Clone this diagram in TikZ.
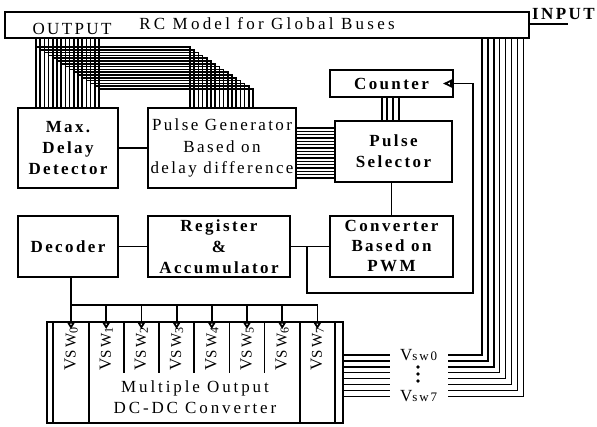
\documentclass[tikz,border=0pt]{standalone}
\usepackage{fontspec}
\setmainfont[LetterSpace=14]{Liberation Serif}
\usetikzlibrary{arrows.meta}
\begin{document}
\begin{tikzpicture}[x=1pt,y=-1pt,
  blk/.style={draw,line width=1.5pt,inner sep=0pt,align=center,font=\fontsize{17}{21}\selectfont\bfseries},
  txt/.style={inner sep=0pt,align=center,font=\fontsize{17}{21}\selectfont},
  conn/.style={line width=1.8pt},
  bus/.style={line width=1.5pt},
  tipd/.style={conn,-{Triangle[open,length=7pt,width=8pt]}},
  tipc/.style={conn,-{Triangle[open,length=9pt,width=8pt]}}]
\useasboundingbox (0,0) rectangle (597,427);

% RC model box
\node[blk,minimum width=524pt,minimum height=26pt] (rc) at (267,25) {};
\node[txt,anchor=base] (title) at (267,30) {\addfontfeature{LetterSpace=19}RC Model for Global Buses};
\node[txt,anchor=base] (out) at (72,35) {OUTPUT};
\node[txt,anchor=base west,font=\fontsize{17}{21}\selectfont\bfseries] (inp) at (532,20) {INPUT};
\coordinate (inend) at (568,24);
\draw[conn] (rc.east |- inend) -- (inend);

% blocks
\node[blk,minimum width=100pt,minimum height=80pt] (max) at (68,148) {Max.\\Delay\\Detector};
\node[blk,font=\fontsize{17}{21.5}\selectfont,minimum width=148pt,minimum height=80pt] (pg) at (222,148) {Pulse Generator\\Based on\\delay difference};
\node[blk,minimum width=123pt,minimum height=27pt] (cnt) at (391.5,83.5) {Counter};
\node[blk,minimum width=117pt,minimum height=61pt] (ps) at (393.5,151.5) {Pulse\\Selector};
\node[blk,font=\fontsize{17}{20}\selectfont\bfseries,minimum width=123pt,minimum height=61pt] (conv) at (391.5,246.5) {Converter\\Based on\\PWM};
\node[blk,minimum width=100pt,minimum height=61pt] (dec) at (68,246.5) {Decoder};
\node[blk,minimum width=142pt,minimum height=61pt] (reg) at (219,246.5) {Register\\\&\\Accumulator};

% DC-DC converter
\node[draw,line width=1.5pt,inner sep=0pt,minimum width=296pt,minimum height=101pt] (dc) at (195,372.5) {};
\draw[conn] (53,322) -- (53,423);
\draw[conn] (335,322) -- (335,423);
\foreach \k in {0,...,6}{
  \pgfmathsetmacro\xd{89+35.1*\k}
  \ifnum\k=0 \draw[conn] (\xd,322) -- (\xd,423);
  \else\ifnum\k=6 \draw[conn] (\xd,322) -- (\xd,423);
  \else \draw[conn] (\xd,322) -- (\xd,373);
  \fi\fi
}
\node[txt] (mo) at (195,397) {\addfontfeature{LetterSpace=17}Multiple Output\\\addfontfeature{LetterSpace=17}DC-DC Converter};
\foreach \i in {0,...,7}{
  \pgfmathsetmacro\xv{71+35.2*\i}
  \node[txt,rotate=90] (v\i) at (\xv,349) {V{\fontsize{15}{15}\selectfont SW}\raisebox{-2pt}{\fontsize{12}{12}\selectfont\i}};
}

% simple connectors
\draw[conn] (max.east) -- (pg.west);
\draw[conn] (dec.east) -- (reg.west);
\draw[conn] (reg.east) -- (conv.west);
\draw[conn] (conv.north |- ps.south) -- (conv.north);
\coordinate (jn) at (307,246.5);
\draw[tipc] (jn) -- (307,293) -- (473,293) -- (473,83.5) -- (443,83.5);

% counter -> pulse selector
\foreach \x in {382,387,393,399}{ \draw[bus] (\x,97) -- (\x,121); }

% output bus
\foreach \i in {0,...,15}{
  \pgfmathsetmacro\xa{36+4.2*\i}
  \pgfmathsetmacro\ya{47+2.8*\i}
  \pgfmathsetmacro\xb{190+4.2*\i}
  \draw[bus] (\xa,38) -- (\xa,108);
  \draw[bus] (\xa,\ya) -- (\xb,\ya) -- (\xb,108);
}

% pulse generator -> selector bus
\foreach \j in {0,...,15}{
  \pgfmathsetmacro\yb{128+3.33*\j}
  \draw[bus] (296,\yb) -- (335,\yb);
}

% decoder -> switches
\coordinate (d0) at (71,305);
\coordinate (d7) at (317.5,305);
\draw[conn] (d0 |- dec.south) -- (d0) -- (d7);
\foreach \i in {0,...,7}{
  \pgfmathsetmacro\xv{71+35.2*\i}
  \draw[tipd] (\xv,305) -- (\xv,329);
}

% Vsw bus to RC model
\foreach \j in {0,...,7}{
  \pgfmathsetmacro\yc{355+5.9*\j}
  \pgfmathsetmacro\xc{482+5.9*\j}
  \draw[bus] (343,\yc) -- (390,\yc);
  \draw[bus] (448,\yc) -- (\xc,\yc) -- (\xc,38);
}
\node[txt,anchor=base west] (vs0) at (400,361) {V{\fontsize{13}{13}\selectfont sw0}};
\node[txt,anchor=base west] (vs7) at (400,402) {V{\fontsize{13}{13}\selectfont sw7}};
\fill (418,367) circle (1.8pt);
\fill (418,374) circle (1.8pt);
\fill (418,381) circle (1.8pt);
\end{tikzpicture}
\end{document}
